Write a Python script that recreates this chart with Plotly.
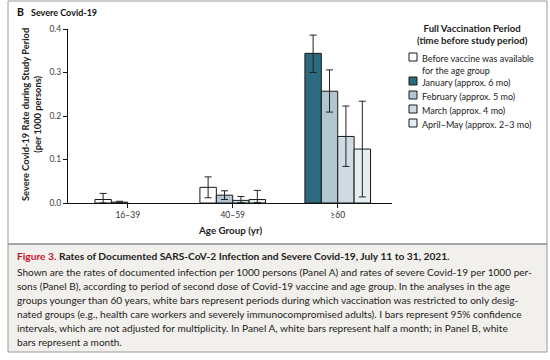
import plotly.graph_objects as go

# ---------------- data ----------------
age_groups = ["16–39", "40–59", "≥60"]
period_names = [
    "Before vaccine was available<br>for the age group",
    "January (approx. 6 mo)",
    "February (approx. 5 mo)",
    "March (approx. 4 mo)",
    "April–May (approx. 2–3 mo)",
]
period_colors = ["#ffffff", "#2e6a7f", "#b2c6d1", "#cfdbe2", "#e7eef2"]

rate_before = [0.008, 0.036, None]
rate_jan = [None, None, 0.344]
rate_feb = [0.002, 0.018, 0.257]
rate_mar = [None, 0.006, 0.153]
rate_apr = [None, 0.008, 0.124]

low_before = [0.000, 0.012, None]
low_jan = [None, None, 0.300]
low_feb = [0.001, 0.008, 0.209]
low_mar = [None, 0.001, 0.084]
low_apr = [None, 0.001, 0.014]

high_before = [0.022, 0.060, None]
high_jan = [None, None, 0.386]
high_feb = [0.004, 0.028, 0.306]
high_mar = [None, 0.015, 0.223]
high_apr = [None, 0.029, 0.234]

y_ticks = [0.0, 0.1, 0.2, 0.3, 0.4]
y_ticktext = ["0.0", "0.1", "0.2", "0.3", "0.4"]

caption_title = ("<span style='color:#c8102e'><b>Figure 3.</b></span> "
                 "<b>Rates of Documented SARS-CoV-2 Infection and Severe Covid-19, July 11 to 31, 2021.</b>")
caption_lines = [
    "Shown are the rates of documented infection per 1000 persons (Panel A) and rates of severe Covid-19 per 1000 per-",
    "sons (Panel B), according to period of second dose of Covid-19 vaccine and age group. In the analyses in the age",
    "groups younger than 60 years, white bars represent periods during which vaccination was restricted to only desig-",
    "nated groups (e.g., health care workers and severely immunocompromised adults). I bars represent 95% confidence",
    "intervals, which are not adjusted for multiplicity. In Panel A, white bars represent half a month; in Panel B, white",
    "bars represent a month.",
]

rates = [rate_before, rate_jan, rate_feb, rate_mar, rate_apr]
lows = [low_before, low_jan, low_feb, low_mar, low_apr]
highs = [high_before, high_jan, high_feb, high_mar, high_apr]

# ---------------- geometry helpers ----------------
W, H = 550, 360
L, R, T, B = 68, 392, 29, 203
FONT = "Lato"


def px(x):
    return (x - L) / (R - L)


def py(y):
    return (B - y) / (B - T)


# ---------------- build slot traces ----------------
n_slots = 4
n_cat = len(age_groups)
slot_y = [[None] * n_cat for _ in range(n_slots)]
slot_c = [["#ffffff"] * n_cat for _ in range(n_slots)]
slot_p = [[None] * n_cat for _ in range(n_slots)]
slot_m = [[None] * n_cat for _ in range(n_slots)]
for ci in range(n_cat):
    s = 0
    for pi in range(len(rates)):
        v = rates[pi][ci]
        if v is None:
            continue
        slot_y[s][ci] = v
        slot_c[s][ci] = period_colors[pi]
        slot_p[s][ci] = highs[pi][ci] - v
        slot_m[s][ci] = v - lows[pi][ci]
        s += 1

fig = go.Figure()
for s in range(n_slots):
    fig.add_trace(go.Bar(
        x=age_groups, y=slot_y[s],
        marker=dict(color=slot_c[s], line=dict(color="#1a1a1a", width=1)),
        error_y=dict(type="data", array=slot_p[s], arrayminus=slot_m[s],
                     color="#222222", thickness=1, width=3.5),
        showlegend=False, hoverinfo="skip",
    ))

shapes = []
annotations = []

# frame + caption box
shapes.append(dict(type="rect", xref="paper", yref="paper",
                   x0=px(8), x1=px(547), y0=py(244), y1=py(352),
                   fillcolor="#f2f0ec", line=dict(width=0), layer="below"))
shapes.append(dict(type="line", xref="paper", yref="paper",
                   x0=px(8), x1=px(547), y0=py(244), y1=py(244),
                   line=dict(color="#555555", width=1)))
shapes.append(dict(type="rect", xref="paper", yref="paper",
                   x0=px(8), x1=px(547), y0=py(1), y1=py(352),
                   line=dict(color="#9a9a9a", width=1)))

# panel label
annotations.append(dict(xref="paper", yref="paper", x=px(15), y=py(12),
                        xanchor="left", yanchor="middle", showarrow=False,
                        text="<b>B</b>", font=dict(family=FONT, size=10.5, color="#111")))
annotations.append(dict(xref="paper", yref="paper", x=px(29), y=py(12),
                        xanchor="left", yanchor="middle", showarrow=False,
                        text="<b>Severe Covid-19</b>", font=dict(family=FONT, size=9, color="#111")))

# y-axis title
annotations.append(dict(xref="paper", yref="paper", x=px(32), y=py(115),
                        xanchor="center", yanchor="middle", showarrow=False, textangle=-90,
                        text="<b>Severe Covid-19 Rate during Study Period<br>(per 1000 persons)</b>",
                        font=dict(family=FONT, size=9.3, color="#222")))
# x-axis title
annotations.append(dict(xref="paper", yref="paper", x=px(230), y=py(230),
                        xanchor="center", yanchor="middle", showarrow=False,
                        text="<b>Age Group (yr)</b>",
                        font=dict(family=FONT, size=9.8, color="#222")))

# legend (manual)
annotations.append(dict(xref="paper", yref="paper", x=px(472), y=py(34),
                        xanchor="center", yanchor="middle", showarrow=False,
                        text="<b>Full Vaccination Period<br>(time before study period)</b>",
                        font=dict(family=FONT, size=9.6, color="#222")))
legend_item_y = [57, 81, 95, 109, 123]
for name, col, yy in zip(period_names, period_colors, legend_item_y):
    shapes.append(dict(type="rect", xref="paper", yref="paper",
                       x0=px(409), x1=px(417), y0=py(yy + 4), y1=py(yy - 4),
                       fillcolor=col, line=dict(color="#1a1a1a", width=1)))
    annotations.append(dict(xref="paper", yref="paper", x=px(420), y=py(yy - 6),
                            xanchor="left", yanchor="top", align="left", showarrow=False,
                            text=name, font=dict(family=FONT, size=9.0, color="#222")))

# caption
annotations.append(dict(xref="paper", yref="paper", x=px(15), y=py(256),
                        xanchor="left", yanchor="middle", showarrow=False,
                        text=caption_title, font=dict(family=FONT, size=10.2, color="#222")))
for i, line in enumerate(caption_lines):
    annotations.append(dict(xref="paper", yref="paper", x=px(15), y=py(272 + 14 * i),
                            xanchor="left", yanchor="middle", showarrow=False,
                            text=line, font=dict(family=FONT, size=10.1, color="#222")))

fig.update_layout(
    width=W, height=H,
    margin=dict(l=L, r=W - R, t=T, b=H - B, pad=0),
    paper_bgcolor="white", plot_bgcolor="white",
    barmode="group", bargap=0.375, bargroupgap=0,
    font=dict(family=FONT, color="#333"),
    shapes=shapes, annotations=annotations,
    xaxis=dict(type="category", range=[-0.569, 2.517], showline=True, linecolor="#111",
               linewidth=1, ticks="outside", ticklen=4, tickcolor="#111",
               tickfont=dict(family=FONT, size=8.5, color="#333"),
               showgrid=False, zeroline=False, fixedrange=True),
    yaxis=dict(range=[0, 0.4], tickvals=y_ticks, ticktext=y_ticktext,
               showline=True, linecolor="#111", linewidth=1, ticks="outside",
               ticklen=4, tickcolor="#111",
               tickfont=dict(family=FONT, size=8.5, color="#444"),
               showgrid=False, zeroline=False, fixedrange=True),
)

fig.write_html("out.html", config={"displayModeBar": False},
               post_script="document.body.style.margin='0';document.body.style.overflow='hidden';")
